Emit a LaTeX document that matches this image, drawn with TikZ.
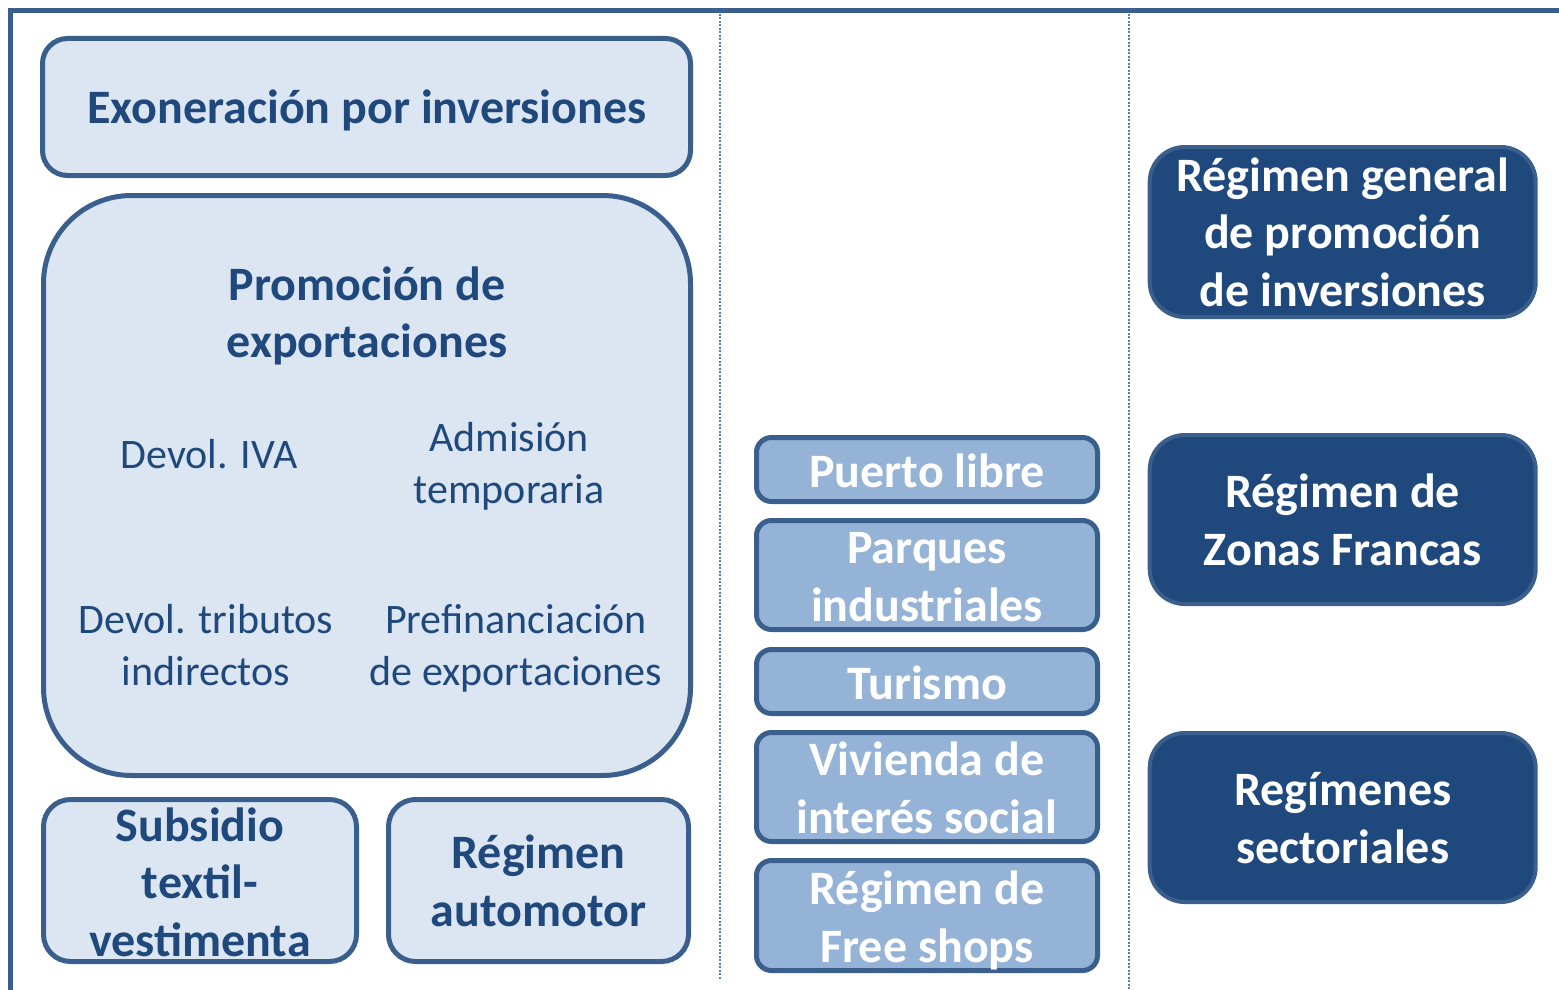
\documentclass[tikz,border=0pt]{standalone}
\usepackage{fontspec}
\setmainfont{Carlito}
\definecolor{lfill}{HTML}{DCE6F2}
\definecolor{bstroke}{HTML}{3A5F8C}
\definecolor{dtext}{HTML}{1F497D}
\definecolor{mfill}{HTML}{95B3D7}
\definecolor{dfill}{HTML}{1F497D}
\definecolor{dotc}{HTML}{4F81BD}
\begin{document}
\begin{tikzpicture}[x=1pt,y=-1pt,
  every node/.style={inner sep=0pt,outer sep=0pt,align=center},
  bigbold/.style={font=\fontsize{48pt}{57.5pt}\selectfont\bfseries},
  regtext/.style={font=\fontsize{42pt}{52pt}\selectfont,text=dtext},
  ltext/.style={bigbold,text=dtext},
  wtext/.style={bigbold,text=white},
  lbox/.style={draw=bstroke,fill=lfill,line width=5pt},
  mbox/.style={draw=bstroke,fill=mfill,line width=5pt,rounded corners=15pt,minimum width=341pt},
  dbox/.style={draw=bstroke,fill=dfill,line width=4pt,rounded corners=35pt,minimum width=386pt},
  frame/.style={draw=bstroke,line width=5pt},
  sep/.style={draw=dotc,line width=2pt,dash pattern=on 2pt off 1.5pt}]
\useasboundingbox (0,0) rectangle (1559,990);
% frame
\coordinate (ftr) at (1559,11);
\coordinate (ftl) at (10,11);
\coordinate (fbl) at (10,990);
\draw[frame] (ftr) -- (ftl) -- (fbl);
% separators
\coordinate (s1t) at (720,14);
\coordinate (s1b) at (720,980);
\coordinate (s2t) at (1129,14);
\coordinate (s2b) at (1129,990);
\draw[sep] (s1t) -- (s1b);
\draw[sep] (s2t) -- (s2b);
% left column
\node[lbox,rounded corners=25pt,minimum width=648pt,minimum height=137pt] (exo) at (366.5,107) {};
\node[ltext] (exot) at (367,110) {Exoneración por inversiones};
\node[lbox,rounded corners=88pt,minimum width=647pt,minimum height=580pt] (promo) at (367,485.5) {};
\node[ltext] (ptitle) at (367,316) {Promoción de\\exportaciones};
\node[regtext] (iva) at (209,454) {Devol. IVA};
\node[regtext] (adm) at (509,466) {Admisión\\temporaria};
\node[regtext] (trib) at (206,645) {Devol. tributos\\indirectos};
\node[regtext] (pref) at (516,648) {Prefinanciación\\de exportaciones};
\node[lbox,rounded corners=27pt,minimum width=313pt,minimum height=162pt] (subs) at (200,880.5) {};
\node[ltext] (subst) at (200,882) {Subsidio\\textil-\\vestimenta};
\node[lbox,rounded corners=27pt,minimum width=300pt,minimum height=162pt] (auto) at (538.5,880.5) {};
\node[ltext] (autot) at (538.5,881) {Régimen\\automotor};
% middle column
\node[mbox,minimum height=64pt] (puerto) at (927,469.5) {};
\node[wtext] (puertot) at (927,470.5) {Puerto libre};
\node[mbox,minimum height=109pt] (parques) at (927,575) {};
\node[wtext] (parquest) at (927,577) {Parques\\industriales};
\node[mbox,minimum height=64pt] (turismo) at (927,681.5) {};
\node[wtext] (turismot) at (927,682.5) {Turismo};
\node[mbox,minimum height=109pt] (vivienda) at (927,787) {};
\node[wtext] (viviendat) at (927,788) {Vivienda de\\interés social};
\node[mbox,minimum height=110pt] (free) at (927,915.5) {};
\node[wtext] (freet) at (927,920.5) {Régimen de\\Free shops};
% right column
\node[dbox,minimum height=170pt] (general) at (1342.7,232) {};
\node[wtext] (generalt) at (1342.7,232) {Régimen general\\de promoción\\de inversiones};
\node[dbox,minimum height=169pt] (zonas) at (1342.7,519.5) {};
\node[wtext] (zonast) at (1342.7,520) {Régimen de\\Zonas Francas};
\node[dbox,minimum height=169pt] (sect) at (1342.7,817.5) {};
\node[wtext] (sectt) at (1342.7,818) {Regímenes\\sectoriales};
\end{tikzpicture}
\end{document}
